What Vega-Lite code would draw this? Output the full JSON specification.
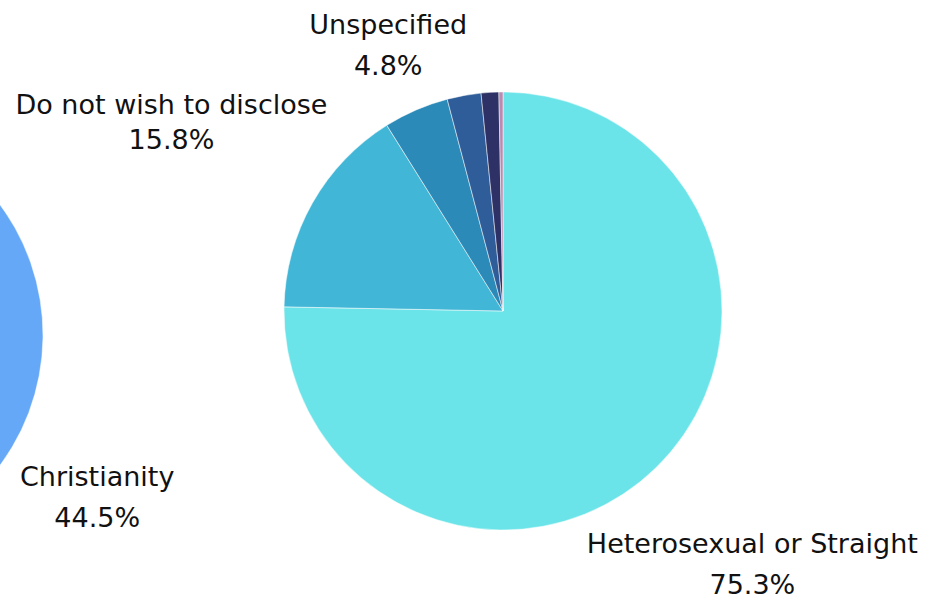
{
  "$schema": "https://vega.github.io/schema/vega-lite/v6.json",
  "width": 926,
  "height": 599,
  "autosize": "none",
  "padding": 0,
  "background": "white",
  "config": {
    "view": {"stroke": null},
    "text": {"font": "DejaVu Sans", "fontSize": 27, "color": "#111111", "align": "center", "baseline": "middle"}
  },
  "datasets": {
    "sexual": [
      {"category": "Heterosexual or Straight", "share": 0.753, "idx": 1},
      {"category": "Do not wish to disclose", "share": 0.158, "idx": 2},
      {"category": "Unspecified", "share": 0.048, "idx": 3},
      {"category": "Gay or Lesbian", "share": 0.025, "idx": 4},
      {"category": "Bisexual", "share": 0.013, "idx": 5},
      {"category": "Other sexual orientation", "share": 0.003, "idx": 6}
    ],
    "religion": [
      {"category": "Atheism", "share": 0.108, "idx": 1},
      {"category": "Buddhism", "share": 0.005, "idx": 2},
      {"category": "Christianity", "share": 0.445, "idx": 3},
      {"category": "Hinduism", "share": 0.03, "idx": 4},
      {"category": "Islam", "share": 0.04, "idx": 5},
      {"category": "Jainism", "share": 0.001, "idx": 6},
      {"category": "Judaism", "share": 0.003, "idx": 7},
      {"category": "Sikhism", "share": 0.005, "idx": 8},
      {"category": "Other", "share": 0.08, "idx": 9},
      {"category": "Do not wish to disclose", "share": 0.13, "idx": 10},
      {"category": "Unspecified", "share": 0.153, "idx": 11}
    ]
  },
  "layer": [
    {
      "data": {"name": "religion"},
      "encoding": {
        "theta": {"field": "share", "type": "quantitative", "stack": true},
        "order": {"field": "idx", "type": "quantitative"}
      },
      "layer": [
        {
          "mark": {"type": "arc", "x": -176, "y": 335, "outerRadius": 219, "stroke": "#ffffff", "strokeWidth": 0.5},
          "encoding": {
            "color": {
              "field": "category", "type": "nominal", "legend": null,
              "scale": {
                "domain": ["Atheism","Buddhism","Christianity","Hinduism","Islam","Jainism","Judaism","Sikhism","Other","Do not wish to disclose","Unspecified"],
                "range": ["#3a7bd5","#4f8fe0","#66a8f8","#7db8f9","#94c6fa","#a9d2fb","#bddcfc","#cfe6fd","#2f66b8","#254f91","#1b3a6b"]
              }
            }
          }
        },
        {
          "mark": {"type": "text", "x": -176, "y": 335, "radius": 318, "dy": -20},
          "encoding": {
            "text": {"field": "category", "type": "nominal"},
            "opacity": {"condition": {"test": "datum.category === 'Christianity'", "value": 1}, "value": 0}
          }
        },
        {
          "mark": {"type": "text", "x": -176, "y": 335, "radius": 318, "dy": 21},
          "encoding": {
            "text": {"field": "share", "type": "quantitative", "format": ".1%"},
            "opacity": {"condition": {"test": "datum.category === 'Christianity'", "value": 1}, "value": 0}
          }
        }
      ]
    },
    {
      "data": {"name": "sexual"},
      "encoding": {
        "theta": {"field": "share", "type": "quantitative", "stack": true},
        "order": {"field": "idx", "type": "quantitative"}
      },
      "layer": [
        {
          "mark": {"type": "arc", "x": 503, "y": 311, "outerRadius": 219, "stroke": "#ffffff", "strokeWidth": 0.5},
          "encoding": {
            "color": {
              "field": "category", "type": "nominal", "legend": null,
              "scale": {
                "domain": ["Heterosexual or Straight","Do not wish to disclose","Unspecified","Gay or Lesbian","Bisexual","Other sexual orientation"],
                "range": ["#6ae4e8","#42b6d6","#2b8ab8","#2e5d99","#2d3166","#b98bb0"]
              }
            }
          }
        },
        {
          "mark": {"type": "text", "x": 503, "y": 311, "radius": 356, "dy": -20},
          "encoding": {
            "text": {"field": "category", "type": "nominal"},
            "opacity": {"condition": {"test": "datum.category === 'Heterosexual or Straight'", "value": 1}, "value": 0}
          }
        },
        {
          "mark": {"type": "text", "x": 503, "y": 311, "radius": 356, "dy": 21},
          "encoding": {
            "text": {"field": "share", "type": "quantitative", "format": ".1%"},
            "opacity": {"condition": {"test": "datum.category === 'Heterosexual or Straight'", "value": 1}, "value": 0}
          }
        },
        {
          "mark": {"type": "text", "x": 503, "y": 311, "radius": 381, "dy": -17},
          "encoding": {
            "text": {"field": "category", "type": "nominal"},
            "opacity": {"condition": {"test": "datum.category === 'Do not wish to disclose'", "value": 1}, "value": 0}
          }
        },
        {
          "mark": {"type": "text", "x": 503, "y": 311, "radius": 381, "dy": 18},
          "encoding": {
            "text": {"field": "share", "type": "quantitative", "format": ".1%"},
            "opacity": {"condition": {"test": "datum.category === 'Do not wish to disclose'", "value": 1}, "value": 0}
          }
        },
        {
          "mark": {"type": "text", "x": 503, "y": 311, "radius": 289, "dy": -20},
          "encoding": {
            "text": {"field": "category", "type": "nominal"},
            "opacity": {"condition": {"test": "datum.category === 'Unspecified'", "value": 1}, "value": 0}
          }
        },
        {
          "mark": {"type": "text", "x": 503, "y": 311, "radius": 289, "dy": 21},
          "encoding": {
            "text": {"field": "share", "type": "quantitative", "format": ".1%"},
            "opacity": {"condition": {"test": "datum.category === 'Unspecified'", "value": 1}, "value": 0}
          }
        }
      ]
    }
  ],
  "resolve": {"scale": {"color": "independent", "theta": "independent"}}
}
